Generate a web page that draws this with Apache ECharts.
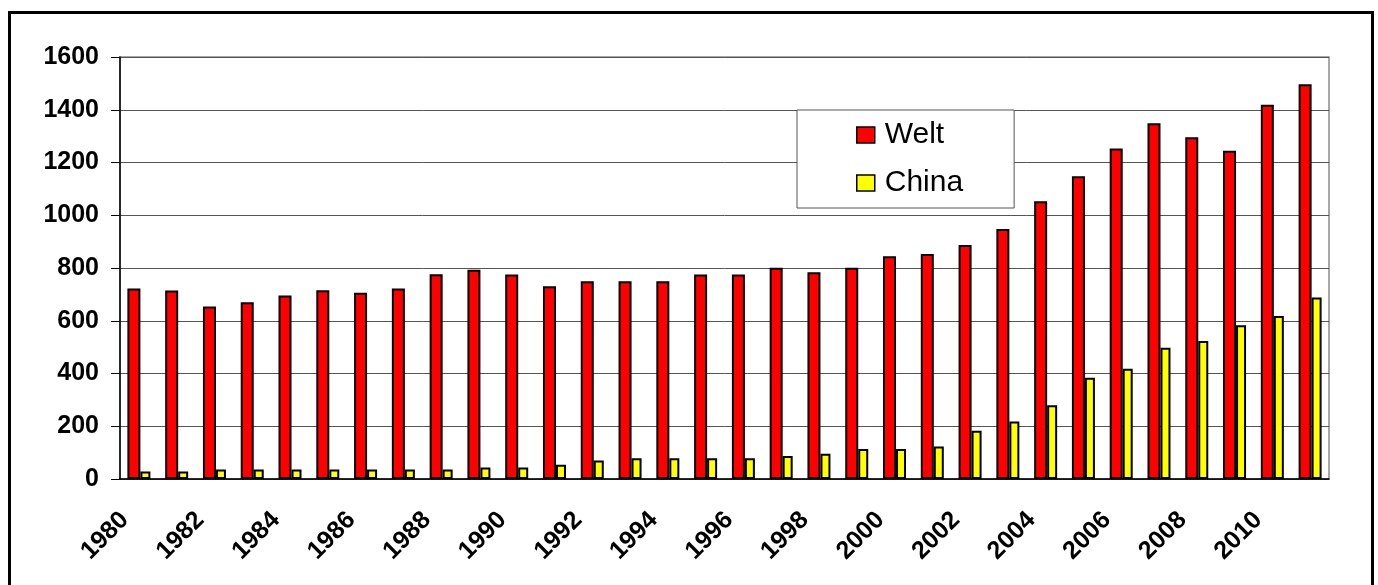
<!DOCTYPE html>
<html style="height: 100%">
<head>
 <meta charset="utf-8">
 <title>Welt / China</title>
 <script src="https://cdn.jsdelivr.net/npm/echarts@6/dist/echarts.min.js"></script>
</head>
<body style="height: 100%; margin: 0; background: #fff">
 <div id="main" style="width: 1378px; height: 585px"></div>
 <script type="text/javascript">
 // Jahre 1980 - 2011
 var years = [];
 for (var y = 1980; y <= 2011; y++) years.push(String(y));

 var welt = [722, 715, 654, 670, 696, 716, 706, 722, 776, 793,
             775, 731, 750, 750, 750, 775, 775, 801, 784, 801,
             845, 853, 887, 948, 1053, 1148, 1253, 1349, 1296, 1245,
             1419, 1497];
 var china = [28, 28, 36, 36, 36, 36, 36, 36, 36, 44,
              44, 54, 70, 79, 79, 79, 79, 87, 96, 114,
              114, 123, 183, 218, 280, 384, 418, 498, 523, 583,
              618, 688];

 var yTicks = { min: 0, max: 1600, interval: 200 };

 var myChart = echarts.init(document.getElementById('main'));

 var option = {
   animation: false,
   backgroundColor: '#fff',
   textStyle: { fontFamily: 'Liberation Sans, Arial, sans-serif' },
   grid: {
     left: 120, top: 57, right: 49, bottom: 106,
     show: true, borderColor: '#8a8a8a', borderWidth: 1.5
   },
   legend: {
     orient: 'vertical',
     left: 797, top: 110,
     padding: [9, 51, 9, 59],
     backgroundColor: '#fff',
     borderColor: '#555',
     borderWidth: 1,
     borderRadius: 0,
     itemWidth: 18, itemHeight: 16,
     itemGap: 16,
     icon: 'rect',
     itemStyle: { borderColor: '#000', borderWidth: 1.5 },
     textStyle: {
       fontSize: 30, color: '#000', lineHeight: 32,
       padding: [0, 0, 0, 5],
       fontFamily: 'Liberation Sans, Arial, sans-serif'
     },
     data: ['Welt', 'China']
   },
   xAxis: {
     type: 'category',
     data: years,
     axisLine: { lineStyle: { color: '#000', width: 1.5 } },
     axisTick: { interval: 0, length: 6, lineStyle: { color: '#000', width: 1 } },
     axisLabel: {
       interval: 1, rotate: 45, margin: 23,
       fontSize: 25, fontWeight: 'bold', color: '#000',
       padding: [0, 20, 0, 0]
     }
   },
   yAxis: {
     type: 'value',
     min: yTicks.min, max: yTicks.max, interval: yTicks.interval,
     axisLine: { show: true, lineStyle: { color: '#000', width: 1.5 } },
     axisTick: { show: true, length: 9, lineStyle: { color: '#000' } },
     axisLabel: {
       fontSize: 25, fontWeight: 'bold', color: '#000', margin: 21,
       formatter: function (v) { return String(v); }
     },
     splitLine: { lineStyle: { color: '#555', width: 1 } }
   },
   series: [
     {
       name: 'Welt', type: 'bar', data: welt,
       barWidth: 13, barGap: '0%',
       itemStyle: { color: '#ff0000', borderColor: '#000', borderWidth: 2 }
     },
     {
       name: 'China', type: 'bar', data: china,
       barWidth: 10,
       itemStyle: { color: '#ffff00', borderColor: '#000', borderWidth: 2 }
     }
   ],
   graphic: [{
     type: 'rect',
     shape: { x: 9.5, y: 12.5, width: 1363, height: 620 },
     style: { fill: null, stroke: '#000', lineWidth: 3 },
     silent: true
   }]
 };

 myChart.setOption(option);
 </script>
</body>
</html>
